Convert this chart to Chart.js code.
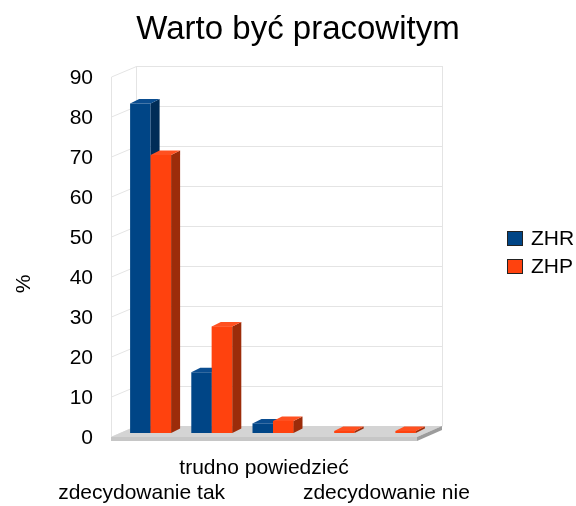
<!DOCTYPE html>
<html><head><meta charset="utf-8">
<script src="https://cdn.jsdelivr.net/npm/chart.js@4/dist/chart.umd.min.js"></script>
<style>html,body{margin:0;padding:0;background:#fff}canvas{display:block}</style>
</head><body>
<canvas id="c" width="576" height="506"></canvas>
<script>
// ---- data ----
const categories = ['zdecydowanie tak', '', 'trudno powiedzieć', '', 'zdecydowanie nie'];
const labelRows = [1, 0, 0, 0, 1];           // staggered label row (0 = upper, 1 = lower)
const seriesNames = ['ZHR', 'ZHP'];
const zhrValues = [82.4, 15.2, 2.4, 0, 0];
const zhpValues = [69.5, 26.6, 3.0, 0.5, 0.5];
const yMin = 0, yMax = 90, yStep = 10;
const chartTitle = 'Warto być pracowitym';
const yTitle = '%';

// ---- style ----
const FONT = '"Liberation Sans", Arial, sans-serif';
const colors = [
  {front: '#004586', top: '#0a4d90', side: '#002c57'},
  {front: '#ff420e', top: '#ff5020', side: '#9c2c0a'}
];
const FRONT = {dx: -9, dy: 4};   // floor front edge offset from bar plane
const BACK = {dx: 16, dy: -7};   // back wall offset from bar plane
const DEPTH = {dx: 9, dy: -4.5}; // bar depth

function poly(ctx, pts) {
  ctx.beginPath();
  ctx.moveTo(pts[0][0], pts[0][1]);
  for (let i = 1; i < pts.length; i++) ctx.lineTo(pts[i][0], pts[i][1]);
  ctx.closePath();
  ctx.fill();
}

const pseudo3d = {
  id: 'pseudo3d',
  beforeDatasetsDraw(chart) {
    const {ctx, chartArea: a, scales: {y}} = chart;
    ctx.save();
    ctx.strokeStyle = '#e4e4e4';
    ctx.lineWidth = 1;
    for (let v = yMin; v <= yMax; v += yStep) {
      const py = y.getPixelForValue(v);
      ctx.beginPath();
      ctx.moveTo(a.left + FRONT.dx + 0.5, py + FRONT.dy);
      ctx.lineTo(a.left + BACK.dx + 0.5, py + BACK.dy + 0.5);
      ctx.lineTo(a.right + BACK.dx + 0.5, py + BACK.dy + 0.5);
      ctx.stroke();
    }
    const top = y.getPixelForValue(yMax), bot = y.getPixelForValue(yMin);
    ctx.beginPath();
    ctx.moveTo(a.left + FRONT.dx + 0.5, top + FRONT.dy); ctx.lineTo(a.left + FRONT.dx + 0.5, bot + FRONT.dy);
    ctx.moveTo(a.left + BACK.dx + 0.5, top + BACK.dy); ctx.lineTo(a.left + BACK.dx + 0.5, bot + BACK.dy);
    ctx.moveTo(a.right + BACK.dx + 0.5, top + BACK.dy); ctx.lineTo(a.right + BACK.dx + 0.5, bot + BACK.dy);
    ctx.stroke();
    // floor
    const th = 4;
    const fl = a.left + FRONT.dx, fr = a.right + FRONT.dx, fy = bot + FRONT.dy;
    const bl = a.left + BACK.dx, br = a.right + BACK.dx, by = bot + BACK.dy;
    ctx.fillStyle = '#d4d4d4';
    poly(ctx, [[fl, fy], [bl, by], [br, by], [fr, fy]]);
    ctx.fillStyle = '#c6c6c6';
    poly(ctx, [[fl, fy], [fr, fy], [fr, fy + th], [fl, fy + th]]);
    ctx.fillStyle = '#9c9c9c';
    poly(ctx, [[fr, fy], [br, by], [br, by + th], [fr, fy + th]]);
    ctx.restore();
  },
  afterDatasetsDraw(chart) {
    const {ctx} = chart;
    const n = chart.data.labels.length;
    const metas = chart.data.datasets.map((d, i) => chart.getDatasetMeta(i));
    ctx.save();
    for (let g = 0; g < n; g++) {
      metas.forEach((m, di) => {
        const el = m.data[g];
        const p = el.getProps(['x', 'y', 'base', 'width'], true);
        if (Math.abs(p.base - p.y) < 0.01) return;
        const l = p.x - p.width / 2, r = p.x + p.width / 2, t = p.y, b = p.base;
        ctx.fillStyle = colors[di].side;
        poly(ctx, [[r, t], [r + DEPTH.dx, t + DEPTH.dy], [r + DEPTH.dx, b + DEPTH.dy], [r, b]]);
        ctx.fillStyle = colors[di].top;
        poly(ctx, [[l, t], [l + DEPTH.dx, t + DEPTH.dy], [r + DEPTH.dx, t + DEPTH.dy], [r, t]]);
        // redraw fronts of bars standing in front
        for (let dj = di + 1; dj < metas.length; dj++) metas[dj].data[g].draw(ctx);
      });
    }
    ctx.restore();
  },
  afterDraw(chart) {
    const {ctx} = chart;
    ctx.save();
    // y title
    ctx.fillStyle = '#000';
    ctx.font = '21px ' + FONT;
    ctx.textAlign = 'center';
    ctx.textBaseline = 'middle';
    ctx.translate(24, 284);
    ctx.rotate(-Math.PI / 2);
    ctx.fillText(yTitle, 0, 0);
    ctx.restore();
    // legend
    ctx.save();
    ctx.font = '21px ' + FONT;
    ctx.textBaseline = 'middle';
    ctx.textAlign = 'left';
    chart.data.datasets.forEach((ds, i) => {
      const cy = 238 + i * 28;
      ctx.fillStyle = ds.backgroundColor;
      ctx.fillRect(507, cy - 7, 16, 15);
      ctx.strokeStyle = '#222';
      ctx.lineWidth = 1;
      ctx.strokeRect(507.5, cy - 6.5, 15, 14);
      ctx.fillStyle = '#000';
      ctx.fillText(ds.label, 531, cy + 1);
    });
    ctx.restore();
  }
};

const xLabels = categories.map((c, i) => labelRows[i] ? ['', c] : [c, '']);

new Chart(document.getElementById('c'), {
  type: 'bar',
  data: {
    labels: xLabels,
    datasets: [
      {label: seriesNames[0], data: zhrValues, backgroundColor: colors[0].front, borderWidth: 0,
       barPercentage: 1.0, categoryPercentage: 0.67},
      {label: seriesNames[1], data: zhpValues, backgroundColor: colors[1].front, borderWidth: 0,
       barPercentage: 1.0, categoryPercentage: 0.67}
    ]
  },
  options: {
    responsive: false,
    animation: false,
    devicePixelRatio: 1,
    layout: {padding: {left: 20, right: 0, top: 0, bottom: 0}},
    plugins: {
      legend: {display: false},
      tooltip: {enabled: false},
      title: {
        display: true, text: chartTitle, color: '#000',
        font: {family: FONT, size: 33, weight: 'normal', lineHeight: 1.2},
        padding: {top: 10, bottom: 23.4}
      }
    },
    scales: {
      x: {
        grid: {display: false, drawTicks: false},
        border: {display: false},
        ticks: {
          autoSkip: false, maxRotation: 0, minRotation: 0,
          padding: 23, labelOffset: -9, color: '#000',
          font: {family: FONT, size: 21, lineHeight: 1.19}
        },
        afterFit(s) { s.height = 73; }
      },
      y: {
        min: yMin, max: yMax,
        grid: {display: false, drawTicks: false},
        border: {display: false},
        ticks: {
          stepSize: yStep, padding: 27, labelOffset: 5, color: '#000',
          font: {family: FONT, size: 21}
        },
        afterFit(s) { s.width = 100; }
      },
      legendSpace: {
        type: 'linear', position: 'right', display: true,
        grid: {display: false, drawTicks: false},
        border: {display: false},
        ticks: {display: false},
        afterFit(s) { s.width = 150; }
      }
    }
  },
  plugins: [pseudo3d]
});
</script>
</body></html>
